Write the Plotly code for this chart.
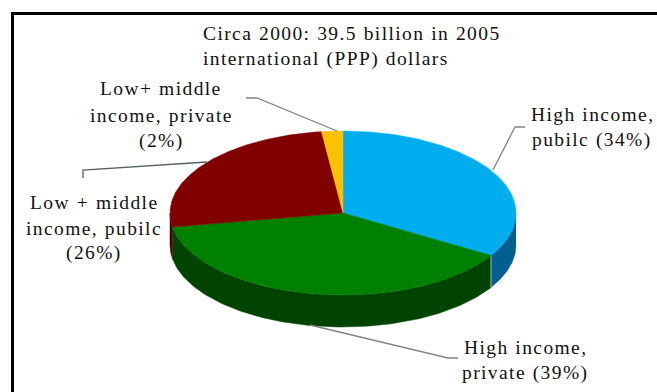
import numpy as np
import plotly.graph_objects as go

# Shares of spending, in the order they run clockwise from twelve o'clock
segments = ["High income, public", "High income, private", "Low + middle income, public", "Low + middle income, private"]
shares = [34, 39, 26, 2]
top_colors = ["#00aeef", "#008000", "#800000", "#ffc000"]
wall_colors = ["#005f8e", "#004400", "#4a0000", "#a07800"]

title_lines = ["Circa 2000: 39.5 billion in 2005", "international (PPP) dollars"]

# Each label: (text line, x centre, y centre), in page pixels
label_lines = [
    ("Low+ middle", 161, 88),
    ("income, private", 161, 115),
    ("(2%)", 161, 141),
    ("Low + middle", 94, 202),
    ("income, pubilc", 94, 228),
    ("(26%)", 94, 253),
    ("High income,", 592, 114),
    ("pubilc (34%)", 592, 140),
    ("High income,", 525, 347),
    ("private (39%)", 525, 373),
]

# Leader lines from each label to the pie
leaders = [
    ([246, 257, 337], [98, 98, 131], "#7f8585"),
    ([83, 83, 207], [178, 170, 162], "#566060"),
    ([525, 515, 493], [127, 127, 170], "#7f8585"),
    ([458, 448, 310], [358, 358, 325], "#7f8585"),
]

# Pie geometry on the page
CX, CY, RX, RY, DEPTH = 343, 213, 173, 82, 32


def rim(angles):
    """Points on the rim for angles measured clockwise from twelve o'clock."""
    return CX + RX * np.sin(angles), CY - RY * np.cos(angles)


def styled(text):
    return f'<span style="letter-spacing:1.4px;word-spacing:0.5px">{text}</span>'


edges = np.radians(np.cumsum([0] + shares) / sum(shares) * 360)
fig = go.Figure()

# Side wall: only the part of each slice on the near half of the pie is visible
for i, color in enumerate(wall_colors):
    a0, a1 = max(edges[i], np.pi / 2), min(edges[i + 1], 3 * np.pi / 2)
    if a1 <= a0:
        continue
    t = np.linspace(a0, a1, 120)
    x, y = rim(t)
    fig.add_trace(go.Scatter(
        x=np.r_[x, x[::-1]], y=np.r_[y, (y + DEPTH)[::-1]],
        mode="lines", line=dict(width=0.5, color=color),
        fill="toself", fillcolor=color, hoverinfo="skip",
    ))

# Pale seam where the blue and green walls meet
sx, sy = rim(np.array([edges[1]]))
fig.add_trace(go.Scatter(
    x=[sx[0], sx[0]], y=[sy[0], sy[0] + DEPTH], mode="lines",
    line=dict(width=1.2, color="#8fa3a3"), hoverinfo="skip",
))

# Top face of each slice
for i, color in enumerate(top_colors):
    t = np.linspace(edges[i], edges[i + 1], 160)
    x, y = rim(t)
    fig.add_trace(go.Scatter(
        x=np.r_[CX, x, CX], y=np.r_[CY, y, CY],
        mode="lines", line=dict(width=0.5, color=color),
        fill="toself", fillcolor=color, name=segments[i], hoverinfo="skip",
    ))

for lx, ly, lc in leaders:
    fig.add_trace(go.Scatter(x=lx, y=ly, mode="lines",
                             line=dict(width=1.3, color=lc), hoverinfo="skip"))

annotations = []
for (line, ty) in zip(title_lines, [33, 59]):
    annotations.append(dict(x=200.5, y=ty, text=styled(line), xanchor="left"))
for line, tx, ty in label_lines:
    annotations.append(dict(x=tx, y=ty, text=styled(line), xanchor="center"))
for a in annotations:
    a.update(xref="x", yref="y", yanchor="middle", showarrow=False,
             font=dict(family="Liberation Serif", size=19.5, color="#111111"))

fig.update_layout(
    width=657, height=392, margin=dict(l=0, r=0, t=0, b=0),
    paper_bgcolor="white", plot_bgcolor="white", showlegend=False,
    xaxis=dict(range=[0, 657], visible=False, fixedrange=True),
    yaxis=dict(range=[392, 0], visible=False, fixedrange=True),
    annotations=annotations,
    shapes=[
        dict(type="line", xref="x", yref="y", x0=12.5, x1=12.5, y0=12, y1=392,
             line=dict(color="#000000", width=3)),
        dict(type="line", xref="x", yref="y", x0=11, x1=657, y0=13.5, y1=13.5,
             line=dict(color="#000000", width=3)),
    ],
)

fig.write_html("out.html")
